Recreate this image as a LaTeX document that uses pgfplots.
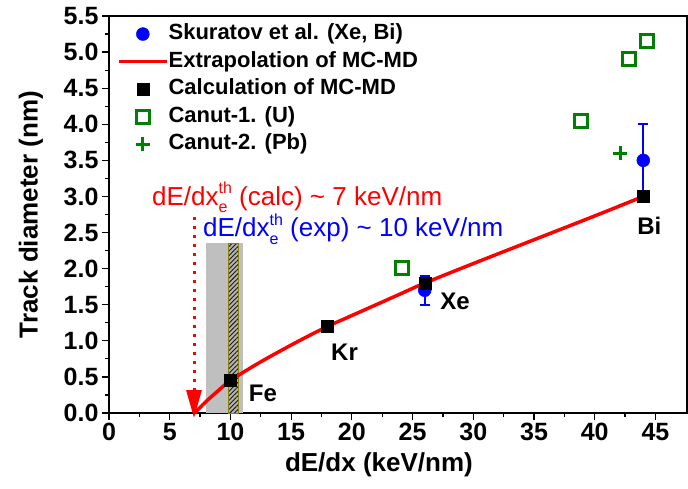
\documentclass[border=0pt]{standalone}
\usepackage{fontspec}
\setmainfont{Liberation Sans}
\usepackage{pgfplots}
\pgfplotsset{compat=1.18}
\usetikzlibrary{patterns,patterns.meta,arrows.meta,calc}
\definecolor{cgreen}{RGB}{0,128,0}
\definecolor{olivebd}{RGB}{140,130,0}
\begin{document}
\begin{tikzpicture}
\begin{axis}[
 scale only axis, width=578bp, height=397bp,
 xmin=0, xmax=47.6, ymin=0, ymax=5.5,
 xtick={0,5,...,45}, ytick={0,0.5,...,5.5},
 minor x tick num=1, minor y tick num=1,
 tick align=outside, xtick pos=bottom, ytick pos=left,
 major tick length=7bp, minor tick length=4bp,
 axis line style={line width=1.2bp},
 every tick/.style={black, line width=1.2bp},
 /pgf/number format/assume math mode=true,
 ticklabel style={font=\fontsize{25bp}{30bp}\selectfont\bfseries},
 yticklabel style={/pgf/number format/.cd, fixed, fixed zerofill, precision=1},
 xlabel={dE/dx (keV/nm)}, ylabel={Track diameter (nm)},
 label style={font=\fontsize{26bp}{31bp}\selectfont\bfseries},
 xlabel style={at={(axis description cs:0.467,-0.131)}, anchor=center},
 ylabel style={at={(axis description cs:-0.135,0.5)}, anchor=center},
 clip=false,
 legend style={draw=none, fill=none, at={(axis description cs:0.014,0.981)}, anchor=north west,
   font=\fontsize{22bp}{26bp}\selectfont\bfseries, row sep=6.6bp, column sep=0bp, inner sep=0pt, outer sep=0pt,
   nodes={inner sep=0pt, text height=16bp, text depth=5bp, xshift=7bp}},
 legend cell align=left,
 legend image code/.code={\draw[mark repeat=2,mark phase=2,#1] plot coordinates {(0bp,0bp) (24bp,0bp) (48bp,0bp)};},
]
% shaded band and hatched bar
\addplot[fill=gray!50, draw=none, forget plot] coordinates {(8,0)(11.05,0)(11.05,2.35)(8,2.35)} -- cycle;
\addplot[draw=olivebd, line width=1bp, fill=gray!60,
  postaction={pattern={Lines[angle=45, distance=3.2bp, line width=0.9bp]}, pattern color=black!90},
  forget plot] coordinates {(9.8,0)(10.7,0)(10.7,2.35)(9.8,2.35)} -- cycle;
% threshold arrow
\addplot[red, line width=3bp, dash pattern=on 3bp off 6bp, -{Triangle[length=28bp,width=15bp]}, forget plot] coordinates {(7,2.72)(7,-0.07)};

\addplot[only marks, mark=*, mark size=6.5bp, blue, mark options={fill=blue, draw=blue},
  error bars/.cd, y dir=both, y explicit, error mark=-,
  error bar style={line width=1.6bp, draw=blue, solid},
  error mark options={rotate=90, line width=1.6bp, mark size=5bp, draw=blue, solid}]
  coordinates {(26,1.7) +- (0,0.2) (44,3.5) +- (0,0.5)};
\addlegendentry{Skuratov et al. (Xe, Bi)}

\addplot[red, line width=3.5bp, smooth, no marks] coordinates {
 (7.05,0) (8,0.16) (9,0.31) (10,0.45) (12,0.66) (14,0.85) (16,1.03) (18,1.2)
 (20,1.35) (22,1.5) (24,1.65) (26,1.8) (30,2.07) (35,2.4) (40,2.73) (44,3.0)};
\addlegendentry{Extrapolation of MC-MD}

\addplot[only marks, mark=square*, mark size=6bp, black] coordinates {(10,0.45)(18,1.2)(26,1.8)(44,3.0)};
\addlegendentry{Calculation of MC-MD}

\addplot[only marks, mark=square, mark size=6.5bp, cgreen, mark options={line width=3bp}] coordinates {(24.1,2.01)(38.9,4.05)(42.8,4.9)(44.3,5.16)};
\addlegendentry{Canut-1. (U)}

\addplot[only marks, mark=+, mark size=7bp, cgreen, mark options={line width=3bp}] coordinates {(42.1,3.6)};
\addlegendentry{Canut-2. (Pb)}

\node[font=\fontsize{24bp}{28bp}\selectfont\bfseries] at (axis cs:12.67,0.27) {Fe};
\node[font=\fontsize{24bp}{28bp}\selectfont\bfseries] at (axis cs:19.4,0.84) {Kr};
\node[font=\fontsize{24bp}{28bp}\selectfont\bfseries] at (axis cs:28.5,1.54) {Xe};
\node[font=\fontsize{24bp}{28bp}\selectfont\bfseries] at (axis cs:44.5,2.6) {Bi};

\node[anchor=base west, red, inner sep=0pt, font=\fontsize{26bp}{30bp}\selectfont] at (axis cs:3.54,2.88)
 {dE/dx\rlap{\raisebox{-0.3em}{\fontsize{16bp}{16bp}\selectfont e}}\raisebox{0.45em}{\fontsize{16bp}{16bp}\selectfont th} (calc) \textasciitilde{} 7 keV/nm};
\node[anchor=base west, blue, inner sep=0pt, font=\fontsize{26bp}{30bp}\selectfont] at (axis cs:7.74,2.44)
 {dE/dx\rlap{\raisebox{-0.3em}{\fontsize{16bp}{16bp}\selectfont e}}\raisebox{0.45em}{\fontsize{16bp}{16bp}\selectfont th} (exp) \textasciitilde{} 10 keV/nm};
\end{axis}
\pgfresetboundingbox
\path ($(current axis.south west)+(-109bp,-76bp)$) rectangle ($(current axis.north east)+(1bp,16bp)$);
\end{tikzpicture}
\end{document}
